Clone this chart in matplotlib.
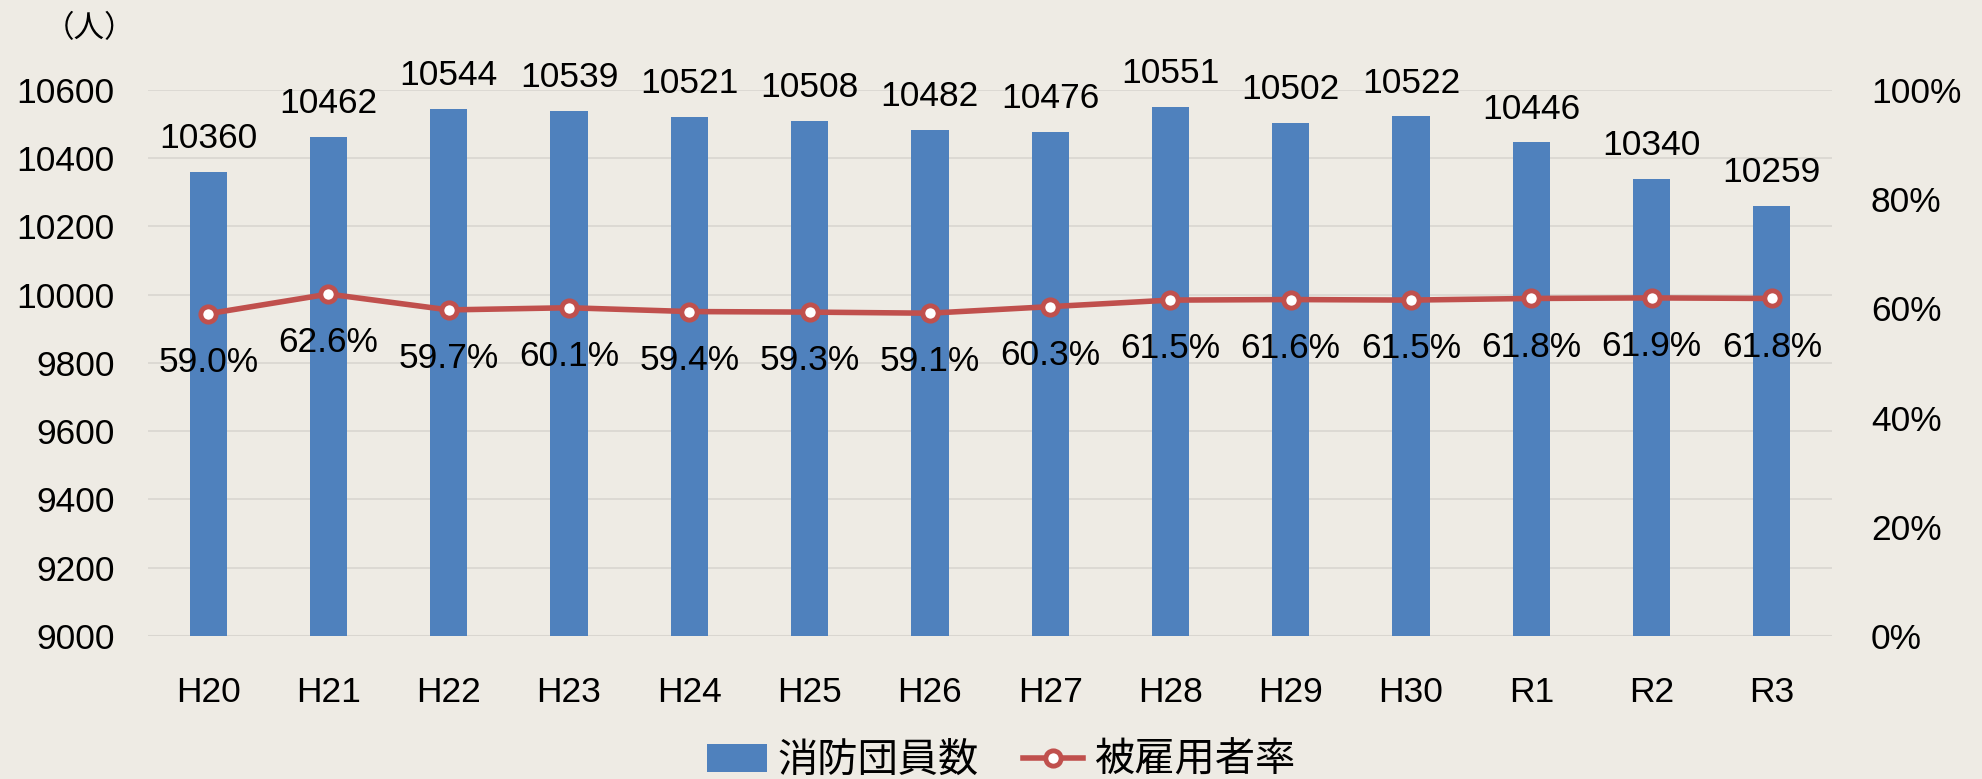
import matplotlib
matplotlib.use("Agg")
import matplotlib.pyplot as plt

plt.rcParams['font.family'] = ['Liberation Sans', 'Noto Sans CJK JP', 'DejaVu Sans']

years = ["H20", "H21", "H22", "H23", "H24", "H25", "H26", "H27", "H28", "H29", "H30", "R1", "R2", "R3"]
members = [10360, 10462, 10544, 10539, 10521, 10508, 10482, 10476, 10551, 10502, 10522, 10446, 10340, 10259]
employed_rate = [59.0, 62.6, 59.7, 60.1, 59.4, 59.3, 59.1, 60.3, 61.5, 61.6, 61.5, 61.8, 61.9, 61.8]

bg = "#EEEBE4"
bar_color = "#4F81BD"
line_color = "#C0504D"
fs = 25.5

fig = plt.figure(figsize=(19.82, 7.79), dpi=100, facecolor=bg)
ax = fig.add_axes([0.0747, 0.1836, 0.8496, 0.7011], facecolor=bg)
x = list(range(len(years)))

ax.bar(x, members, width=0.31, color=bar_color, zorder=2, label="消防団員数")
ax.set_ylim(9000, 10600)
ax.set_xlim(-0.5, len(years) - 0.5)
ax.set_yticks(range(9000, 10601, 200))
ax.grid(axis='y', color='#D9D6D0', linewidth=1.2, zorder=0)
for s in ax.spines.values():
    s.set_visible(False)
ax.axhline(9000, color='#D9D6D0', linewidth=1.5, zorder=1)
ax.set_xticks(x)
ax.set_xticklabels(years)
ax.tick_params(axis='both', length=0, labelsize=fs)
ax.tick_params(axis='x', pad=29)
ax.tick_params(axis='y', pad=24)

for xi, v in zip(x, members):
    ax.annotate(str(v), (xi, v), xytext=(0, 24), textcoords='offset points',
                ha='center', va='center', fontsize=fs)

ax2 = ax.twinx()
ax2.set_ylim(0, 1.0)
ax2.set_yticks([0, 0.2, 0.4, 0.6, 0.8, 1.0])
ax2.set_yticklabels(["0%", "20%", "40%", "60%", "80%", "100%"])
ax2.tick_params(axis='y', length=0, labelsize=fs, pad=28)
for s in ax2.spines.values():
    s.set_visible(False)
rates = [r / 100 for r in employed_rate]
ax2.plot(x, rates, color=line_color, linewidth=4, marker='o', markersize=11,
         markerfacecolor='white', markeredgecolor=line_color, markeredgewidth=3.5,
         zorder=3, label="被雇用者率")
for xi, r in zip(x, employed_rate):
    ax2.annotate(f"{r:.1f}%", (xi, r / 100), xytext=(0, -35), textcoords='offset points',
                 ha='center', va='center', fontsize=fs)

fig.text(0.045, 0.963, "（人）", fontsize=22, ha='center', va='center',
         family=['Noto Sans CJK JP', 'DejaVu Sans'])

h1, l1 = ax.get_legend_handles_labels()
h2, l2 = ax2.get_legend_handles_labels()
fig.legend(h1 + h2, l1 + l2, loc='center', bbox_to_anchor=(0.505, 0.024), ncol=2,
           frameon=False, handlelength=1.5, handleheight=0.7, handletextpad=0.25,
           columnspacing=1.1, prop={'family': ['Noto Sans CJK JP', 'DejaVu Sans'], 'size': 29})

fig.savefig("out.png", dpi=100, facecolor=bg)
